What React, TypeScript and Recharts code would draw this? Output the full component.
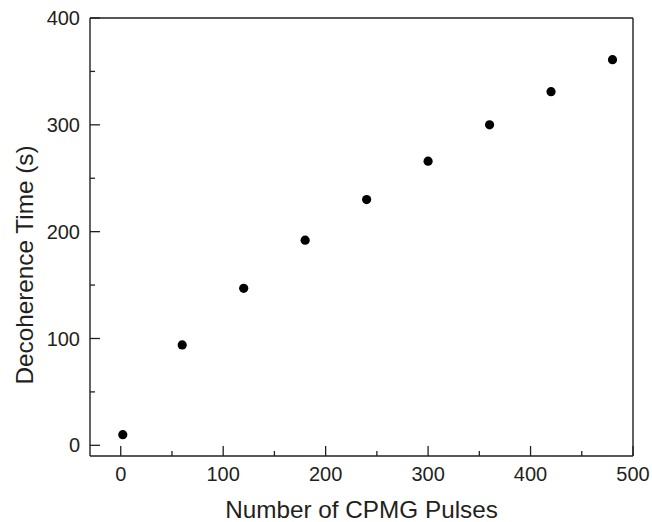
import React from "react";
import { ScatterChart, Scatter, XAxis, YAxis, Label } from "recharts";

const pulses = [2, 60, 120, 180, 240, 300, 360, 420, 480];
const decoherence = [10, 94, 147, 192, 230, 266, 300, 331, 361];

const xMajorTicks = [0, 100, 200, 300, 400, 500];
const yMajorTicks = [0, 100, 200, 300, 400];
const xAllTicks = [0, 50, 100, 150, 200, 250, 300, 350, 400, 450, 500];
const yAllTicks = [0, 50, 100, 150, 200, 250, 300, 350, 400];

const xDomain = [-30, 500];
const yDomain = [-10, 400];

const xTitle = "Number of CPMG Pulses";
const yTitle = "Decoherence Time (s)";

const data = pulses.map((p, i) => ({ x: p, y: decoherence[i] }));

const FONT = '"Liberation Sans", Arial, Helvetica, sans-serif';
const INK = "#231f20";
const X_MARGIN = 11;
const Y_MARGIN = 10;
const MAJOR_LEN = 10;
const MINOR_LEN = 5;
const FRAME_LEN = 2;

const Dot = (props: any) => <circle cx={props.cx} cy={props.cy} r={4.6} fill="#000" />;

const BottomTick = (props: any) => {
  const { x, y, payload } = props;
  const v = payload.value;
  const major = xMajorTicks.includes(v);
  const axisY = y - X_MARGIN;
  return (
    <g>
      <line x1={x} x2={x} y1={axisY} y2={axisY - (major ? MAJOR_LEN : MINOR_LEN)} stroke={INK} strokeWidth={1.3} />
      {major && (
        <text x={x} y={y} dy="0.71em" textAnchor="middle" fill={INK} fontSize={20} fontFamily={FONT}>
          {v}
        </text>
      )}
    </g>
  );
};

const LeftTick = (props: any) => {
  const { x, y, payload } = props;
  const v = payload.value;
  const major = yMajorTicks.includes(v);
  const axisX = x + Y_MARGIN;
  return (
    <g>
      <line x1={axisX} x2={axisX + (major ? MAJOR_LEN : MINOR_LEN)} y1={y} y2={y} stroke={INK} strokeWidth={1.3} />
      {major && (
        <text x={x} y={y} dy="0.355em" textAnchor="end" fill={INK} fontSize={20} fontFamily={FONT}>
          {v}
        </text>
      )}
    </g>
  );
};

const TopTick = (props: any) => {
  const { x, y } = props;
  const axisY = y + Y_MARGIN;
  return <line x1={x} x2={x} y1={axisY} y2={axisY + FRAME_LEN} stroke={INK} strokeWidth={1} />;
};

const RightTick = (props: any) => {
  const { x, y } = props;
  const axisX = x - Y_MARGIN;
  return <line x1={axisX} x2={axisX - FRAME_LEN} y1={y} y2={y} stroke={INK} strokeWidth={1} />;
};

export default function App() {
  return (
    <div style={{ position: "absolute", left: 0, top: 0 }}>
      <ScatterChart
        width={652}
        height={522}
        margin={{ top: 18, right: 19, bottom: 0, left: 0 }}
        style={{ fontFamily: FONT }}
      >
        <XAxis
          type="number"
          dataKey="x"
          domain={xDomain}
          ticks={xAllTicks}
          interval={0}
          height={66}
          tickLine={false}
          tickSize={0}
          tickMargin={X_MARGIN}
          axisLine={{ stroke: INK, strokeWidth: 1.4 }}
          tick={BottomTick}
        >
          <Label
            content={(p: any) => {
              const vb = p.viewBox;
              return (
                <text
                  x={vb.x + vb.width / 2}
                  y={518}
                  textAnchor="middle"
                  fill={INK}
                  fontSize={24.3}
                  fontFamily={FONT}
                >
                  {xTitle}
                </text>
              );
            }}
          />
        </XAxis>
        <XAxis
          xAxisId="top"
          orientation="top"
          type="number"
          dataKey="x"
          domain={xDomain}
          ticks={xAllTicks}
          interval={0}
          height={0.01}
          mirror
          tickLine={false}
          tickSize={0}
          tickMargin={Y_MARGIN}
          axisLine={{ stroke: INK, strokeWidth: 1.4 }}
          tick={TopTick}
        />
        <YAxis
          type="number"
          dataKey="y"
          domain={yDomain}
          ticks={yAllTicks}
          interval={0}
          width={90}
          tickLine={false}
          tickSize={0}
          tickMargin={Y_MARGIN}
          axisLine={{ stroke: INK, strokeWidth: 1.4 }}
          tick={LeftTick}
        >
          <Label
            content={(p: any) => {
              const vb = p.viewBox;
              const cx = 24;
              const cy = vb.y + vb.height / 2 + 28;
              return (
                <text
                  x={cx}
                  y={cy}
                  textAnchor="middle"
                  dominantBaseline="central"
                  transform={`rotate(-90 ${cx} ${cy})`}
                  fill={INK}
                  fontSize={24.3}
                  fontFamily={FONT}
                >
                  {yTitle}
                </text>
              );
            }}
          />
        </YAxis>
        <YAxis
          yAxisId="right"
          orientation="right"
          type="number"
          dataKey="y"
          domain={yDomain}
          ticks={yAllTicks}
          interval={0}
          width={0.01}
          mirror
          tickLine={false}
          tickSize={0}
          tickMargin={Y_MARGIN}
          axisLine={{ stroke: INK, strokeWidth: 1.4 }}
          tick={RightTick}
        />
        <Scatter data={data} shape={Dot} isAnimationActive={false} />
      </ScatterChart>
    </div>
  );
}
